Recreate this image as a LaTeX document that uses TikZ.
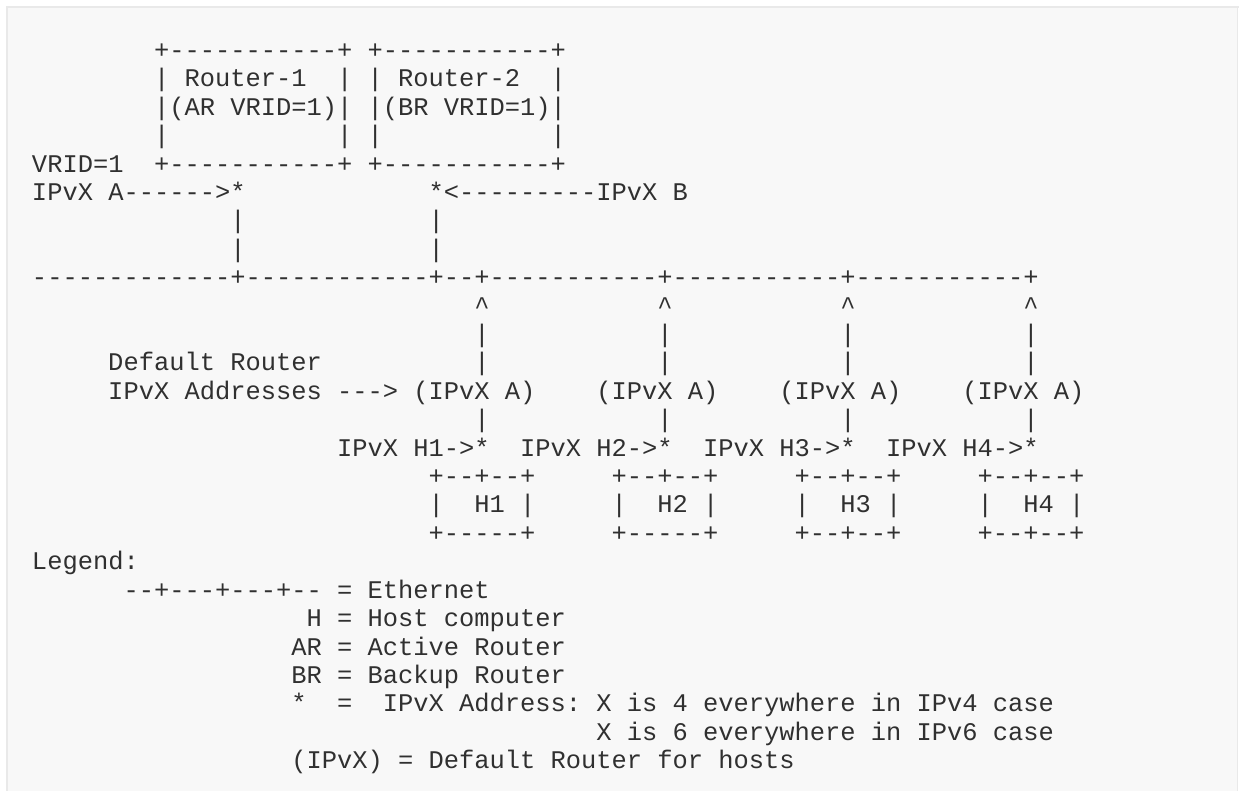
\documentclass[tikz,border=0pt]{standalone}
\usepackage{fontspec}
\setmonofont{Liberation Mono}
\definecolor{inkgray}{HTML}{303030}
\definecolor{pregray}{HTML}{F8F8F8}
\definecolor{edgegray}{HTML}{E9E9E9}
\tikzset{
  ascii/.style={anchor=base west, inner sep=0pt, outer sep=0pt,
    font=\ttfamily\fontsize{12.71pt}{14.2pt}\selectfont, text=inkgray},
}
\begin{document}
\begin{tikzpicture}
\pgfmathsetlengthmacro\cw{7.625pt}
\pgfmathsetlengthmacro\lh{14.2pt}
\useasboundingbox (-16pt,29.3pt) rectangle (603.5pt,-366.2pt);
\fill[pregray] (-12.5pt,25.8pt) rectangle (602.8pt,-367pt);
\draw[edgegray, line width=1pt] (-12.5pt,-367pt) -- (-12.5pt,25.8pt) -- (603.5pt,25.8pt);
\draw[edgegray, line width=0.6pt] (602.8pt,25.8pt) -- (602.8pt,-367pt);
\foreach \r/\c/\t in {0/8/{+-----------+ +-----------+},
  1/8/{| Router-1}, 1/20/{| | Router-2}, 1/34/{|},
  2/8/{|(AR VRID=1)| |(BR VRID=1)|},
  3/8/{|}, 3/20/{| |}, 3/34/{|},
  4/0/{VRID=1}, 4/8/{+-----------+ +-----------+},
  5/0/{IPvX A------>*}, 5/26/{*<---------IPvX B},
  6/13/{|}, 6/26/{|}, 7/13/{|}, 7/26/{|},
  8/0/{-------------+------------+--+-----------+-----------+-----------+},
  11/5/{Default Router},
  12/5/{IPvX Addresses ---> (IPvX A)}, 12/37/{(IPvX A)}, 12/49/{(IPvX A)}, 12/61/{(IPvX A)},
  17/26/{+-----+}, 17/38/{+-----+}, 17/50/{+--+--+}, 17/62/{+--+--+},
  18/0/{Legend:},
  19/6/{--+---+---+-- = Ethernet},
  20/18/{H = Host computer},
  21/17/{AR = Active Router},
  22/17/{BR = Backup Router},
  23/17/{*}, 23/20/{=}, 23/23/{IPvX Address: X is 4 everywhere in IPv4 case},
  24/37/{X is 6 everywhere in IPv6 case},
  25/17/{(IPvX) = Default Router for hosts}}
  \node[ascii] (l\r-\c) at ({\cw*\c},{-\lh*\r}) {\t};
\foreach \c in {29,41,53,65} {
  \pgfmathtruncatemacro\h{(\c-17)/12}
  \pgfmathtruncatemacro\a{\c-9}
  \pgfmathtruncatemacro\b{\c-3}
  \node[ascii] (l9-\c) at ({\cw*\c},{-\lh*9}) {\textasciicircum};
  \foreach \r in {10,11,13} \node[ascii] (l\r-\c) at ({\cw*\c},{-\lh*\r}) {|};
  \node[ascii] (l14-\a) at ({\cw*\a},{-\lh*14}) {IPvX H\h->*};
  \node[ascii] (l15-\b) at ({\cw*\b},{-\lh*15}) {+--+--+};
  \node[ascii] (l16-\b) at ({\cw*\b},{-\lh*16}) {|};
  \node[ascii] (l16-\c) at ({\cw*\c},{-\lh*16}) {H\h\ |};
}
\end{tikzpicture}
\end{document}
